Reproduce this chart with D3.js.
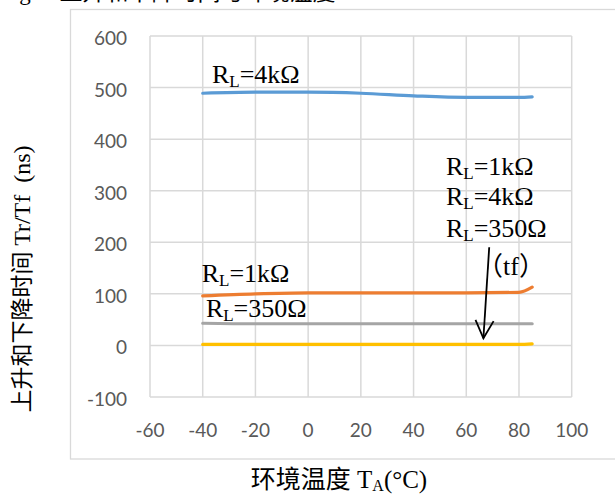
<!DOCTYPE html>
<html>
<head>
<meta charset="utf-8">
<script src="https://cdn.jsdelivr.net/npm/d3@7"></script>
<style>
  body { margin: 0; background: #fff; }
  svg { display: block; }
</style>
</head>
<body>
<svg id="chart"></svg>
<script>
// temperatures (°C) and rise/fall times (ns)
const temps = [-40, -20, 0, 20, 40, 60, 80, 85];
const rl4k = [489, 491, 491, 489, 484, 481, 481, 482];
const rl1k = [96, 100, 102, 102, 102, 102, 103, 113];
const rl350 = [43, 42, 42, 42, 42, 42, 42, 42];
const tf = [2, 2, 2, 2, 2, 2, 2, 3];

const xticks = [-60, -40, -20, 0, 20, 40, 60, 80, 100];
const yticks = [-100, 0, 100, 200, 300, 400, 500, 600];

const series = [
    {name: 'RL=4k', values: rl4k, color: '#5b9bd5'},
    {name: 'RL=1k', values: rl1k, color: '#ed7d31'},
    {name: 'RL=350', values: rl350, color: '#a5a5a5'},
    {name: 'tf', values: tf, color: '#ffc000'}
];

const width = 615, height = 494;
const svg = d3.select('#chart').attr('width', width).attr('height', height);

const xscale = d3.scaleLinear().domain([-60, 100]).range([150, 571.7]);
const yscale = d3.scaleLinear().domain([-100, 600]).range([397, 36]);

// clipped caption above the chart
svg.append('text')
    .attr('x', 0).attr('y', 0)
    .style('font-family', '"Liberation Serif", "Noto Sans CJK SC", serif')
    .style('font-size', '23px')
    .attr('fill', '#000')
    .attr('xml:space', 'preserve')
    .text('Fig.5  上升和下降时间与环境温度');

// outer chart frame
svg.append('rect')
    .attr('x', 70.5).attr('y', 9.5)
    .attr('width', 600).attr('height', 449.5)
    .attr('fill', '#fff')
    .attr('stroke', '#d9d9d9')
    .attr('stroke-width', 1.3);

const grid = svg.append('g').attr('stroke', '#d9d9d9').attr('stroke-width', 1.5);
grid.selectAll('line.v')
    .data(xticks)
    .join('line')
    .attr('class', 'v')
    .attr('x1', d => xscale(d)).attr('x2', d => xscale(d))
    .attr('y1', yscale(600)).attr('y2', yscale(-100));
grid.selectAll('line.h')
    .data(yticks)
    .join('line')
    .attr('class', 'h')
    .attr('x1', xscale(-60)).attr('x2', xscale(100))
    .attr('y1', d => yscale(d)).attr('y2', d => yscale(d));

const tickFont = 'Lato, "Open Sans", sans-serif';
svg.append('g').selectAll('text')
    .data(yticks)
    .join('text')
    .attr('x', 127)
    .attr('y', d => yscale(d) + 9)
    .attr('text-anchor', 'end')
    .style('font-family', tickFont)
    .style('font-size', '19px')
    .attr('fill', '#595959')
    .text(d => d);

svg.append('g').selectAll('text')
    .data(xticks)
    .join('text')
    .attr('x', d => xscale(d))
    .attr('y', 437)
    .attr('text-anchor', 'middle')
    .style('font-family', tickFont)
    .style('font-size', '19px')
    .attr('fill', '#595959')
    .text(d => d);

// series lines
const line = d3.line()
    .x((d, i) => xscale(temps[i]))
    .y(d => yscale(d))
    .curve(d3.curveMonotoneX);

svg.append('g').selectAll('path')
    .data(series)
    .join('path')
    .attr('d', d => line(d.values))
    .attr('fill', 'none')
    .attr('stroke', d => d.color)
    .attr('stroke-width', 3.2)
    .attr('stroke-linecap', 'round');

// axis titles
const serif = '"Liberation Serif", "Noto Sans CJK SC", serif';
const ytitle = svg.append('text')
    .attr('transform', 'translate(30, 279) rotate(-90)')
    .attr('text-anchor', 'middle')
    .attr('xml:space', 'preserve')
    .style('font-family', serif)
    .attr('fill', '#000');
ytitle.append('tspan').style('font-size', '23px').text('上升和下降时间 ');
ytitle.append('tspan').style('font-size', '24px').text('Tr/Tf  (ns)');

const xtitle = svg.append('text')
    .attr('x', 339).attr('y', 488)
    .attr('text-anchor', 'middle')
    .attr('xml:space', 'preserve')
    .style('font-family', serif)
    .style('font-size', '25px')
    .attr('fill', '#000');
xtitle.append('tspan').text('环境温度 T');
xtitle.append('tspan').attr('dy', 3).style('font-size', '16px').text('A');
xtitle.append('tspan').attr('dy', -3).text('(°C)');

// annotations (data coordinates)
const labels = [
    {x: -36.5, y: 509, text: '=4kΩ'},
    {x: -40.4, y: 123.6, text: '=1kΩ'},
    {x: -38.8, y: 55.7, text: '=350Ω'},
    {x: 52.3, y: 330.5, text: '=1kΩ'},
    {x: 52.3, y: 272.3, text: '=4kΩ'},
    {x: 52.3, y: 210.8, text: '=350Ω'}
];
const lab = svg.append('g').selectAll('text')
    .data(labels)
    .join('text')
    .attr('x', d => xscale(d.x))
    .attr('y', d => yscale(d.y))
    .style('font-family', serif)
    .style('font-size', '26px')
    .attr('fill', '#000');
lab.append('tspan').text('R');
lab.append('tspan').attr('dy', 4).style('font-size', '17px').text('L');
lab.append('tspan').attr('dy', -4).text(d => d.text);

svg.append('text')
    .attr('x', xscale(64.1))
    .attr('y', yscale(136.6))
    .style('font-family', serif)
    .style('font-size', '26px')
    .attr('fill', '#000')
    .text('（tf）');

// arrow pointing at the tf curves
const a0 = [xscale(68.7), yscale(190.3)];
const a1 = [xscale(66.5), yscale(13.8)];
const ang = Math.atan2(a0[1] - a1[1], a0[0] - a1[0]);
const headLen = 20, headAng = 0.47;
const w1 = [a1[0] + headLen * Math.cos(ang + headAng), a1[1] + headLen * Math.sin(ang + headAng)];
const w2 = [a1[0] + headLen * Math.cos(ang - headAng), a1[1] + headLen * Math.sin(ang - headAng)];
const arrow = svg.append('g').attr('stroke', '#000').attr('stroke-width', 1.8).attr('fill', 'none');
arrow.append('line')
    .attr('x1', a0[0]).attr('y1', a0[1])
    .attr('x2', a1[0]).attr('y2', a1[1]);
arrow.append('path')
    .attr('d', `M${w1[0]},${w1[1]}L${a1[0]},${a1[1]}L${w2[0]},${w2[1]}`);
</script>
</body>
</html>
